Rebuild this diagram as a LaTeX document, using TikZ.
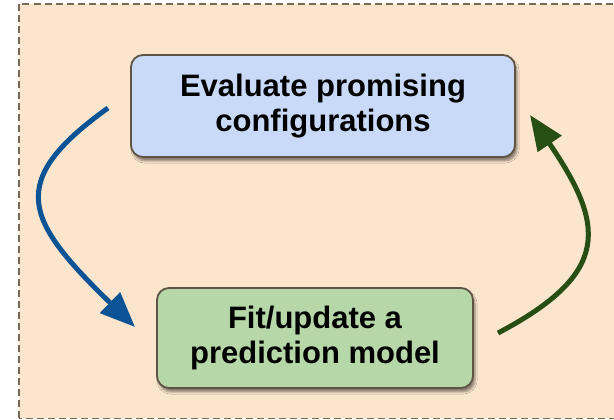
\documentclass[tikz,border=0pt]{standalone}
\usepackage{fontspec}
\setmainfont{Liberation Sans}
\usetikzlibrary{arrows.meta,shadows.blur}
\definecolor{peach}{HTML}{FCE5CD}
\definecolor{frame}{HTML}{776A55}
\definecolor{boxline}{HTML}{5F5444}
\definecolor{bluefill}{HTML}{C9DAF8}
\definecolor{greenfill}{HTML}{B6D7A8}
\definecolor{bluearrow}{HTML}{0B5394}
\definecolor{greenarrow}{HTML}{274E13}
\tikzset{
  stepbox/.style={draw=boxline, line width=1.8pt, rounded corners=12pt,
    align=center, font=\fontsize{31}{35}\selectfont\bfseries, inner sep=0pt,
    blur shadow={shadow xshift=2pt, shadow yshift=-4pt, shadow blur steps=6, shadow opacity=45}},
  looparrow/.style={line width=5pt, -{Triangle[length=35pt,width=28pt]}}
}
\begin{document}
\begin{tikzpicture}[x=1pt,y=1pt]
\fill[white] (0,0) rectangle (614,420);
\useasboundingbox (0,0) rectangle (614,420);
\draw[frame, fill=peach, line width=1.5pt, dash pattern=on 7pt off 4pt] (19,1.5) rectangle (640,416);
\node[stepbox, fill=bluefill, minimum width=384pt, minimum height=102pt] (eval) at (323,314) {Evaluate promising\\configurations};
\node[stepbox, fill=greenfill, minimum width=316pt, minimum height=100pt] (fit) at (315,82) {Fit/update a\\prediction model};
\coordinate (b1) at (108,312);
\coordinate (b2) at (135,93);
\coordinate (g1) at (498,87);
\coordinate (g2) at (530,305);
\draw[looparrow, bluearrow] (b1) .. controls (5,238) and (25,200) .. (b2);
\draw[looparrow, greenarrow] (g1) .. controls (612,147) and (605,195) .. (g2);
\end{tikzpicture}
\end{document}
